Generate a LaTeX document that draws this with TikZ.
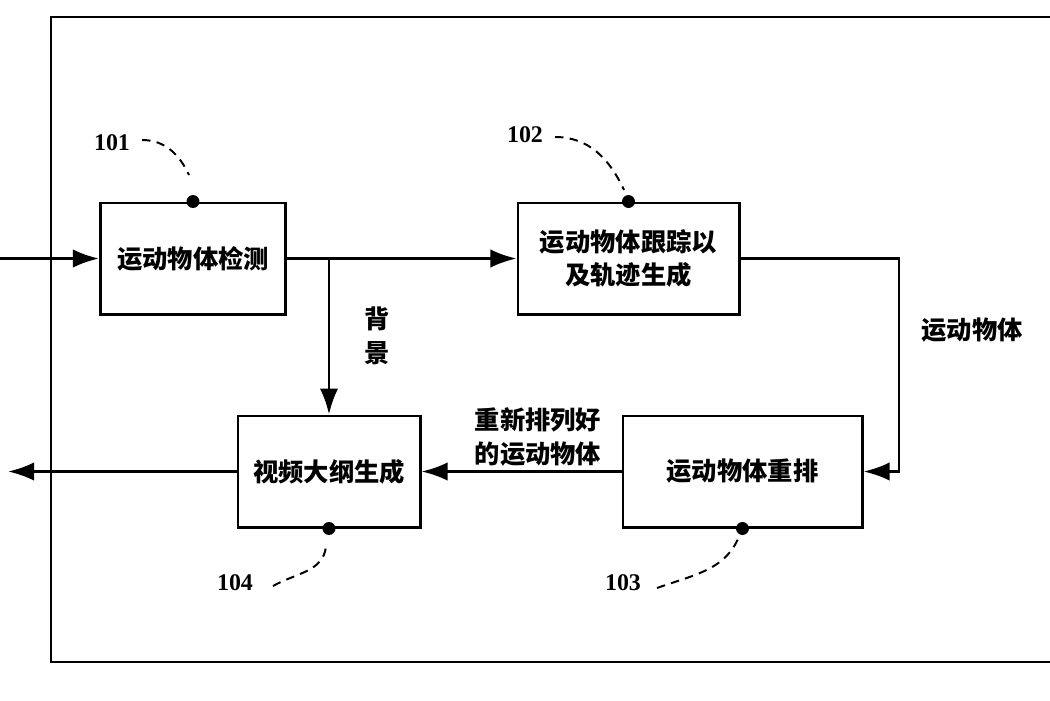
\documentclass[tikz,border=0pt]{standalone}
\usepackage{fontspec}
\setmainfont{Liberation Serif}
\newfontfamily\cjk{Noto Sans CJK SC}
\usepackage{tikz}
\usetikzlibrary{arrows.meta}

\begin{document}
\begin{tikzpicture}[x=0.025cm, y=-0.025cm, line width=2pt,
    >={Latex[length=6.5mm,width=4.6mm]},
    block/.style={draw, line width=2.1pt, inner sep=0pt, align=center,
        minimum height=2.775cm, font=\cjk\bfseries\fontsize{18}{23.5}\selectfont},
    caption/.style={align=center, font=\cjk\bfseries\fontsize{18}{24.5}\selectfont},
    refnum/.style={font=\bfseries\fontsize{17}{20}\selectfont},
    leader/.style={line width=1.4pt, dash pattern=on 6pt off 4.5pt}]

\clip (0,0) rectangle (1050,700);

% outer frame
\draw[line width=1.9pt] (1080,17) -- (51,17) -- (51,662) -- (1080,662);

% blocks
\node[block, minimum width=4.625cm] (b101) at (193,258.5) {运动物体检测};
\node[block, minimum width=5.525cm] (b102) at (628.5,258.5) {运动物体跟踪以\\及轨迹生成};
\node[block, minimum width=5.975cm] (b103) at (742.5,471.5) {运动物体重排};
\node[block, minimum width=4.55cm] (b104) at (329,471.5) {视频大纲生成};

\coordinate (in) at (0,258.5);
\coordinate (out) at (8,471.5);
\coordinate (split) at (329,258.5);
\coordinate (turn) at (899,258.5);

% connectors
\draw[->] (in) -- (b101.west);
\draw (b101.east) -- (split);
\draw[->] (split) -- (b102.west);
\draw[->] (split) -- (b104.north);
\draw[->] (b102.east) -- (turn) |- (b103.east);
\draw[->] (b103.west) -- (b104.east);
\draw[->] (b104.west) -- (out);

% labels
\node[caption] (lbg) at (377,336) {背\\景};
\node[caption] (lobj) at (972,330) {运动物体};
\node[caption] (lnew) at (538,437) {重新排列好\\的运动物体};

% reference numbers
\node[refnum] (n101) at (112,143) {101};
\node[refnum] (n102) at (525,135) {102};
\node[refnum] (n103) at (623,583) {103};
\node[refnum] (n104) at (235,583) {104};

\coordinate (t101) at (189,175);
\coordinate (t102) at (624,190);
\coordinate (t103) at (740,534);
\coordinate (t104) at (326,546);

\draw[leader] (n101.east) ++(6,-3) to[out=0, in=115] (t101);
\draw[leader] (n102.east) ++(6,2) to[out=0, in=115] (t102);
\draw[leader] (n103.east) ++(10,5) to[out=20, in=-110] (t103);
\draw[leader] (n104.east) ++(14,3) to[out=30, in=-95] (t104);

\foreach \b/\a in {b101/north, b102/north, b103/south, b104/south}
    \fill (\b.\a) circle (4.6pt);

\end{tikzpicture}
\end{document}
